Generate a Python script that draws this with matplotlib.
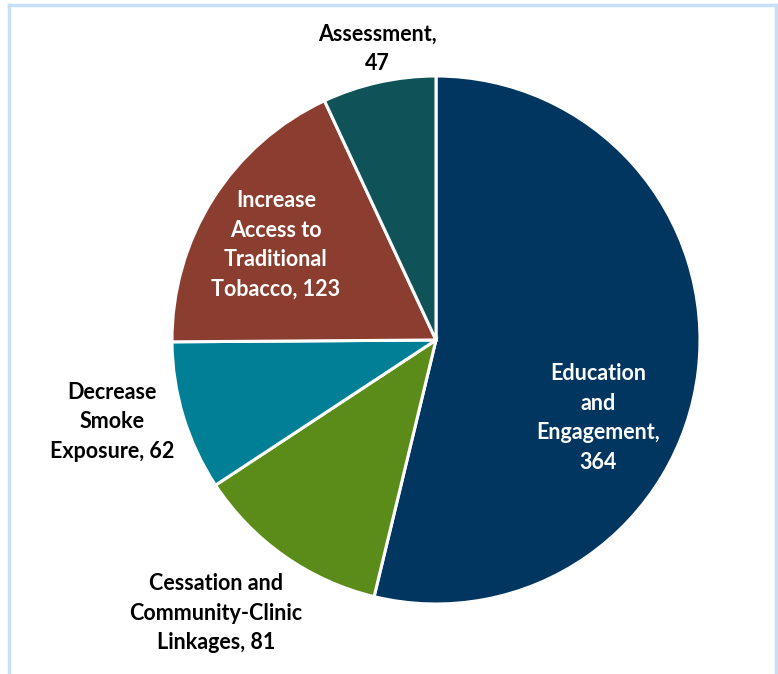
import matplotlib
matplotlib.use("Agg")
import matplotlib.pyplot as plt
from matplotlib.lines import Line2D

# categories / counts, clockwise from 12 o'clock
categories = ["Education\nand\nEngagement", "Cessation and\nCommunity-Clinic\nLinkages",
              "Decrease\nSmoke\nExposure", "Increase\nAccess to\nTraditional\nTobacco",
              "Assessment"]
counts = [364, 81, 62, 123, 47]
colors = ["#003660", "#5B8C1A", "#007F96", "#8B3E2F", "#0F5257"]

# label anchor (pixels from top-left), text colour
label_pos = [(598, 418), (216, 613), (112, 422), (276, 245), (377, 49)]
label_col = ["white", "black", "black", "white", "black"]

W, H = 778, 674
fig = plt.figure(figsize=(W / 100, H / 100), dpi=100)
ax = fig.add_axes([0, 0, 1, 1])
ax.set_aspect("equal")
ax.axis("off")

ax.pie(counts, colors=colors, startangle=90, counterclock=False,
       center=(436, H - 340), radius=264,
       wedgeprops=dict(edgecolor="white", linewidth=2.2))
ax.set_xlim(0, W)
ax.set_ylim(0, H)

for name, n, (x, y), c in zip(categories, counts, label_pos, label_col):
    if name == "Assessment" or name.startswith("Education"):
        txt = name + ",\n" + str(n)
    else:
        txt = name + ", " + str(n)
    ax.text(x, H - y, txt, ha="center", va="center", color=c,
            fontsize=15.5, fontweight="bold", family="Lato", linespacing=1.5)

# light blue frame, open at the bottom
fc = "#C5E0F7"
top = 1 - 5 / H
fig.add_artist(Line2D([9 / W, 9 / W], [0, top], color=fc, lw=2.5))
fig.add_artist(Line2D([9 / W, 776 / W], [top, top], color=fc, lw=2.5))
fig.add_artist(Line2D([776 / W, 776 / W], [0, top], color=fc, lw=2.5))

fig.savefig("out.png", dpi=100)
